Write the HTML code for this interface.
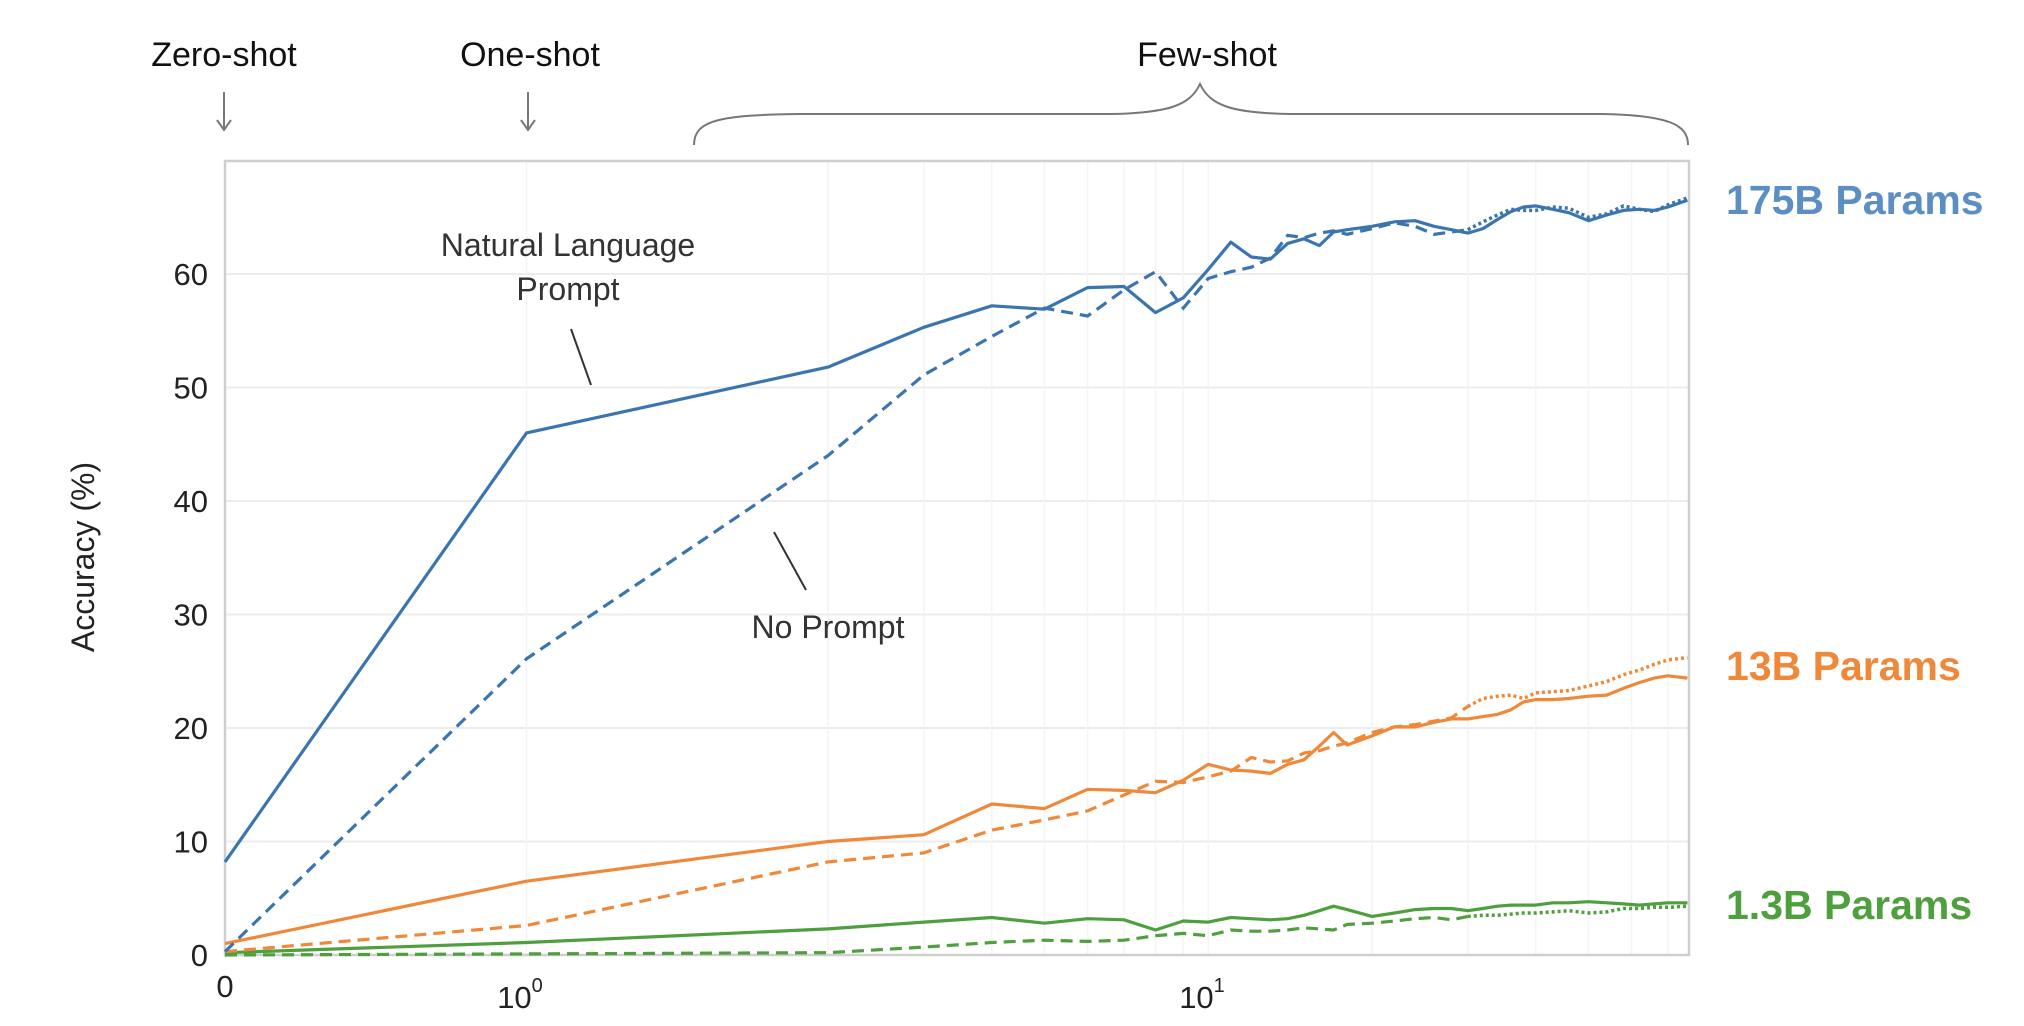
<!DOCTYPE html>
<html><head><meta charset="utf-8"><style>
html,body{margin:0;padding:0;background:#fff;}
svg{display:block;font-family:"Liberation Sans",sans-serif;}
</style></head><body>
<svg id="chart" width="2024" height="1026" viewBox="0 0 2024 1026" xmlns="http://www.w3.org/2000/svg">
<g id="grid"></g>
<rect x="225" y="161" width="1464" height="794" fill="none" stroke="#cfcfcf" stroke-width="2.5"/>
<g id="series"></g>
<g id="yticks" font-size="31" fill="#222" text-anchor="end"></g>
<text transform="translate(94,557) rotate(-90)" font-size="32" fill="#222" text-anchor="middle">Accuracy (%)</text>
<g fill="#222" font-size="31" text-anchor="middle">
<text x="225" y="997">0</text>
<text x="520" y="1008">10<tspan font-size="20" dy="-16">0</tspan></text>
<text x="1202" y="1008">10<tspan font-size="20" dy="-16">1</tspan></text>
</g>
<g font-size="34" fill="#111" text-anchor="middle">
<text x="224" y="66">Zero-shot</text>
<text x="530" y="66">One-shot</text>
<text x="1207" y="66">Few-shot</text>
</g>
<g stroke="#777" stroke-width="2" fill="none">
<path d="M224 92 V129 M217 120 L224 130 L231 120"/>
<path d="M528 92 V129 M521 120 L528 130 L535 120"/>
<path d="M694 145 C694 120 720 115 800 114 L1110 114 C1170 113 1190 105 1200 84 C1210 105 1230 113 1290 114 L1600 114 C1670 115 1688 125 1688 145"/>
</g>
<g font-size="32" fill="#333" text-anchor="middle">
<text x="568" y="256">Natural Language</text>
<text x="568" y="300">Prompt</text>
<line x1="571" y1="329" x2="591" y2="385" stroke="#333" stroke-width="2"/>
<text x="828" y="638">No Prompt</text>
<line x1="774" y1="532" x2="806" y2="590" stroke="#333" stroke-width="2"/>
</g>
<g font-size="41" font-weight="bold">
<text x="1726" y="214" fill="#5b8fc4">175B Params</text>
<text x="1726" y="680" fill="#f0883a">13B Params</text>
<text x="1726" y="919" fill="#4e9f3d">1.3B Params</text>
</g>
</svg>
<script>
const shots = [0,1,2,3,4,5,6,7,8,9,10,11,12,13,14,15,16,17,18,20,22,24,26,28,30,32,34,36,38,40,43,46,50,54,58,62,66,70,76];
const big_prompt = [8.2,46.0,51.8,55.3,57.2,56.9,58.8,58.9,56.6,57.9,60.4,62.8,61.5,61.3,62.7,63.1,62.5,63.7,63.9,64.2,64.6,64.7,64.2,63.9,63.6,64.0,64.8,65.5,65.9,66.0,65.7,65.4,64.7,65.2,65.6,65.7,65.6,65.9,66.5];
const big_noprompt = [0.3,26.1,44.0,51.1,54.5,57.0,56.3,58.6,60.2,57.0,59.6,60.2,60.6,61.4,63.4,63.2,63.6,63.8,63.5,64.0,64.5,64.2,63.5,63.7,63.9,64.6,65.2,65.7,65.6,65.6,65.9,65.8,65.0,65.3,66.0,65.7,65.5,66.1,66.7];
const mid_prompt = [1.0,6.5,10.0,10.6,13.3,12.9,14.6,14.5,14.3,15.4,16.8,16.3,16.2,16.0,16.8,17.2,18.4,19.6,18.5,19.3,20.1,20.1,20.5,20.8,20.8,21.0,21.2,21.6,22.3,22.5,22.5,22.6,22.8,22.9,23.5,24.0,24.4,24.6,24.4];
const mid_noprompt = [0.3,2.6,8.2,9.0,11.0,11.9,12.7,14.1,15.3,15.2,15.7,16.2,17.4,17.0,17.1,17.8,18.0,18.4,18.7,19.6,20.1,20.3,20.6,20.9,21.9,22.6,22.8,22.9,22.6,23.1,23.2,23.3,23.7,24.1,24.7,25.1,25.6,26.0,26.2];
const small_prompt = [0.2,1.1,2.3,2.9,3.3,2.8,3.2,3.1,2.2,3.0,2.9,3.3,3.2,3.1,3.2,3.5,3.9,4.3,4.0,3.4,3.7,4.0,4.1,4.1,3.9,4.1,4.3,4.4,4.4,4.4,4.6,4.6,4.7,4.6,4.5,4.4,4.5,4.6,4.6];
const small_noprompt = [0.0,0.1,0.2,0.7,1.1,1.3,1.2,1.3,1.7,1.9,1.7,2.2,2.1,2.1,2.2,2.4,2.3,2.2,2.7,2.8,3.0,3.2,3.3,3.1,3.4,3.5,3.5,3.6,3.7,3.7,3.8,3.9,3.7,3.8,4.1,4.1,4.2,4.2,4.3];
const yTicks = [0,10,20,30,40,50,60];
const xGrid = [1,2,3,4,5,6,7,8,9,10,20,30,40,50,60,70];

const NS = "http://www.w3.org/2000/svg";
const Y0 = 955, PER = 11.35;
function yScale(v){ return Y0 - v*PER; }
function xScale(k){ return k <= 2 ? 225 + k*301.5 : 828 + 544*Math.log10(k/2); }

const grid = document.getElementById('grid');
for (const t of yTicks) {
  const l = document.createElementNS(NS,'line');
  
  
  l.setAttribute('x1',225); l.setAttribute('x2',1689);
  l.setAttribute('y1',yScale(t)); l.setAttribute('y2',yScale(t));
  l.setAttribute('stroke','#ececec'); l.setAttribute('stroke-width','2');
  grid.appendChild(l);
  const tx = document.createElementNS(NS,'text');
  
  
  tx.setAttribute('x',208); tx.setAttribute('y',yScale(t)+11);
  tx.textContent = t;
  document.getElementById('yticks').appendChild(tx);
}
for (const k of xGrid) {
  const l = document.createElementNS(NS,'line');
  
  
  l.setAttribute('x1',xScale(k)); l.setAttribute('x2',xScale(k));
  l.setAttribute('y1',161); l.setAttribute('y2',955);
  l.setAttribute('stroke','#f4f4f4'); l.setAttribute('stroke-width','1.5');
  grid.appendChild(l);
}

const seriesG = document.getElementById('series');
function pts(vals, from, to){
  const out=[];
  for (let i=from;i<=to;i++) out.push(xScale(shots[i]).toFixed(1)+','+yScale(vals[i]).toFixed(1));
  return out.join(' ');
}
function draw(name, vals, color, kind){
  const split = shots.indexOf(30);
  if (kind === 'solid') {
    const p = document.createElementNS(NS,'polyline');
    
    
    p.setAttribute('points', pts(vals,0,shots.length-1));
    p.setAttribute('fill','none'); p.setAttribute('stroke',color); p.setAttribute('stroke-width','3.2');
    p.setAttribute('stroke-linejoin','round');
    seriesG.appendChild(p);
  } else {
    const a = document.createElementNS(NS,'polyline');
    
    
    a.setAttribute('points', pts(vals,0,split));
    a.setAttribute('fill','none'); a.setAttribute('stroke',color); a.setAttribute('stroke-width','3.2');
    a.setAttribute('stroke-dasharray','12 7');
    seriesG.appendChild(a);
    const b = document.createElementNS(NS,'polyline');
    
    
    b.setAttribute('points', pts(vals,split,shots.length-1));
    b.setAttribute('fill','none'); b.setAttribute('stroke',color); b.setAttribute('stroke-width','3.5');
    b.setAttribute('stroke-dasharray','3 3');
    seriesG.appendChild(b);
  }
}
draw('line-1-3b-no-prompt', small_noprompt, '#4e9f3d', 'dash');
draw('line-1-3b-prompt', small_prompt, '#4e9f3d', 'solid');
draw('line-13b-no-prompt', mid_noprompt, '#f0883a', 'dash');
draw('line-13b-prompt', mid_prompt, '#f0883a', 'solid');
draw('line-175b-no-prompt', big_noprompt, '#3a75b0', 'dash');
draw('line-175b-prompt', big_prompt, '#3a75b0', 'solid');
</script>
</body></html>
